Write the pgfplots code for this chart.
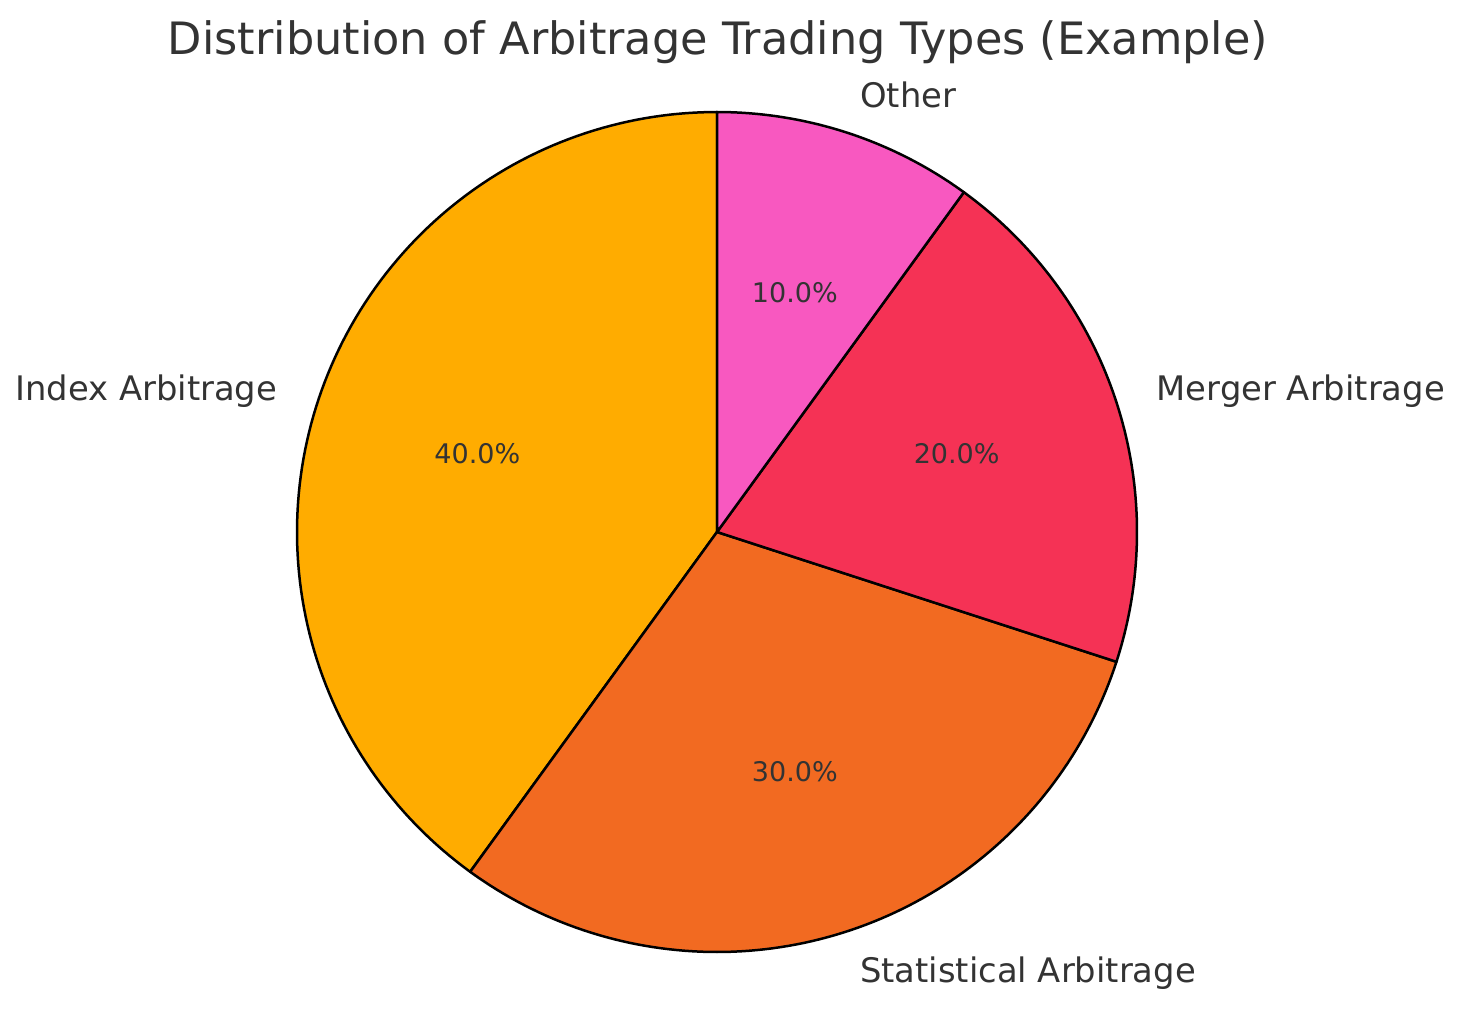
\documentclass[border=0pt]{standalone}
\usepackage{pgfplots}
\pgfplotsset{compat=1.18}
\usepackage{fontspec}
\setmainfont{DejaVu Sans}
\definecolor{cIndex}{HTML}{FFAC00}
\definecolor{cStat}{HTML}{F26A21}
\definecolor{cMerger}{HTML}{F53255}
\definecolor{cOther}{HTML}{F858C0}
\definecolor{txt}{HTML}{333333}
% values (percent): Index 40, Statistical 30, Merger 20, Other 10
% start angle 90, counterclockwise
\begin{document}
\begin{tikzpicture}
\begin{axis}[
  scale only axis, width=730.5pt, height=507pt,
  xmin=0, xmax=1461, ymin=0, ymax=1014,
  hide axis, clip=false,
]
\path (axis cs:0,0) rectangle (axis cs:1461,1014);
% Index Arbitrage 40%
\addplot[fill=cIndex, draw=black, line width=1.25pt, line join=round, domain=90:{90+3.6*40}, samples=120, variable=\t]
  ({717+420*cos(\t)}, {482+420*sin(\t)}) -- (axis cs:717,482) -- cycle;
% Statistical Arbitrage 30%
\addplot[fill=cStat, draw=black, line width=1.25pt, line join=round, domain={90+3.6*40}:{90+3.6*70}, samples=100, variable=\t]
  ({717+420*cos(\t)}, {482+420*sin(\t)}) -- (axis cs:717,482) -- cycle;
% Merger Arbitrage 20%
\addplot[fill=cMerger, draw=black, line width=1.25pt, line join=round, domain={90+3.6*70}:{90+3.6*90}, samples=80, variable=\t]
  ({717+420*cos(\t)}, {482+420*sin(\t)}) -- (axis cs:717,482) -- cycle;
% Other 10%
\addplot[fill=cOther, draw=black, line width=1.25pt, line join=round, domain={90+3.6*90}:{90+3.6*100}, samples=50, variable=\t]
  ({717+420*cos(\t)}, {482+420*sin(\t)}) -- (axis cs:717,482) -- cycle;

% labels (1.1 r at mid-angle)
\node[anchor=east, text=txt, font=\fontsize{16.9}{19}\selectfont, inner sep=0pt] at (axis cs:{717+462*cos(162)},{480+462*sin(162)}) {Index Arbitrage};
\node[anchor=west, text=txt, font=\fontsize{16.9}{19}\selectfont, inner sep=0pt] at (axis cs:{717+462*cos(288)},{480+462*sin(288)}) {Statistical Arbitrage};
\node[anchor=west, text=txt, font=\fontsize{16.9}{19}\selectfont, inner sep=0pt] at (axis cs:{717+462*cos(18)},{480+462*sin(18)}) {Merger Arbitrage};
\node[anchor=west, text=txt, font=\fontsize{16.9}{19}\selectfont, inner sep=0pt] at (axis cs:{717+462*cos(72)},{480+462*sin(72)}) {Other};

% percentages (0.6 r)
\node[text=txt, font=\fontsize{13.5}{15}\selectfont, inner sep=0pt] at (axis cs:{717+252*cos(162)},{482+252*sin(162)}) {40.0\%};
\node[text=txt, font=\fontsize{13.5}{15}\selectfont, inner sep=0pt] at (axis cs:{717+252*cos(288)},{482+252*sin(288)}) {30.0\%};
\node[text=txt, font=\fontsize{13.5}{15}\selectfont, inner sep=0pt] at (axis cs:{717+252*cos(18)},{482+252*sin(18)}) {20.0\%};
\node[text=txt, font=\fontsize{13.5}{15}\selectfont, inner sep=0pt] at (axis cs:{717+252*cos(72)},{482+252*sin(72)}) {10.0\%};

% title
\node[text=txt, font=\fontsize{22.3}{26}\selectfont, inner sep=0pt] at (axis cs:718,972) {Distribution of Arbitrage Trading Types (Example)};
\end{axis}
\end{tikzpicture}
\end{document}
